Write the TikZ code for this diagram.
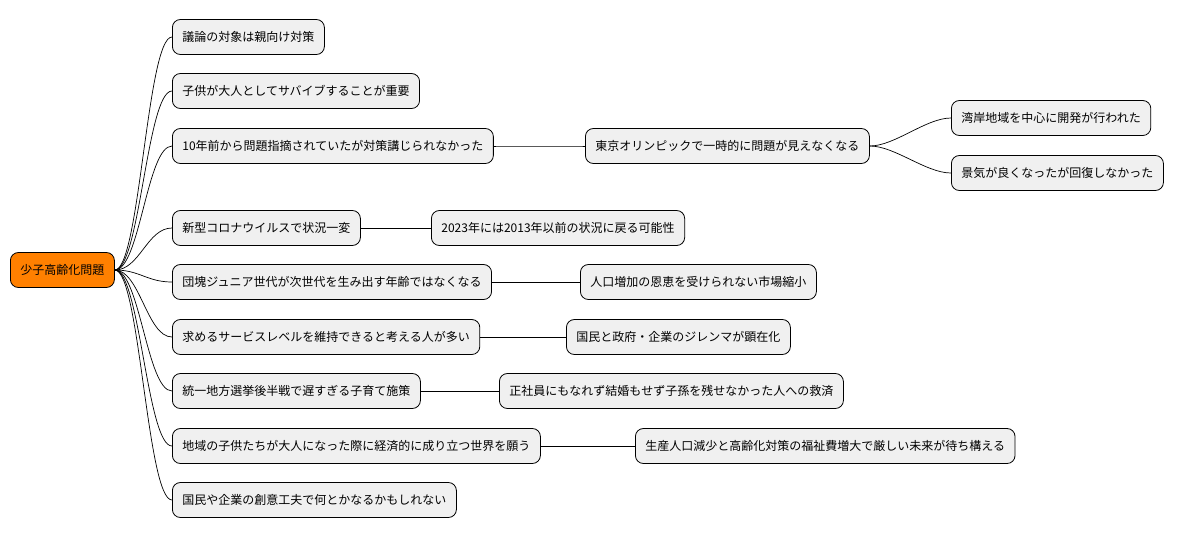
\documentclass[tikz,border=0pt]{standalone}
\usepackage{fontspec}
\setmainfont{Noto Sans CJK JP}
\begin{document}
\begin{tikzpicture}[%
      x=1pt, y=-1pt,
      topic/.style={draw=black, line width=0.8pt, rounded corners=8pt, fill=gray!12,
        minimum height=35pt, inner xsep=10pt, anchor=west, font=\fontsize{12}{14}\selectfont},
      rootnode/.style={topic, fill=orange},
      link/.style={draw=black, line width=0.7pt},
      ]
      \useasboundingbox (0,0) rectangle (1199,539);

      \node [rootnode] (root) at (10,270) {少子高齢化問題};

      \node [topic] (a) at (172,37) {議論の対象は親向け対策};
      \node [topic] (b) at (172,91) {子供が大人としてサバイブすることが重要};
      \node [topic] (c) at (172,146) {10年前から問題指摘されていたが対策講じられなかった};
      \node [topic] (d) at (172,228) {新型コロナウイルスで状況一変};
      \node [topic] (e) at (172,282) {団塊ジュニア世代が次世代を生み出す年齢ではなくなる};
      \node [topic] (f) at (172,337) {求めるサービスレベルを維持できると考える人が多い};
      \node [topic] (g) at (172,391) {統一地方選挙後半戦で遅すぎる子育て施策};
      \node [topic] (h) at (172,446) {地域の子供たちが大人になった際に経済的に成り立つ世界を願う};
      \node [topic] (i) at (172,500) {国民や企業の創意工夫で何とかなるかもしれない};

      \node [topic] (c1) at (585,146) {東京オリンピックで一時的に問題が見えなくなる};
      \node [topic] (c11) at (951,118) {湾岸地域を中心に開発が行われた};
      \node [topic] (c12) at (951,173) {景気が良くなったが回復しなかった};
      \node [topic] (d1) at (431,228) {2023年には2013年以前の状況に戻る可能性};
      \node [topic] (e1) at (580,282) {人口増加の恩恵を受けられない市場縮小};
      \node [topic] (f1) at (566,337) {国民と政府・企業のジレンマが顕在化};
      \node [topic] (g1) at (499,391) {正社員にもなれず結婚もせず子孫を残せなかった人への救済};
      \node [topic] (h1) at (635,446) {生産人口減少と高齢化対策の福祉費増大で厳しい未来が待ち構える};

      \foreach \n in {a,b,c,d,e,f,g,h,i}
        \draw [link] (root.east) .. controls +(25,0) and +(-25,0) .. (\n.west);
      \draw [link] (c.east) .. controls +(20,0) and +(-20,0) .. (c1.west);
      \draw [link] (c1.east) .. controls +(25,0) and +(-25,0) .. (c11.west);
      \draw [link] (c1.east) .. controls +(25,0) and +(-25,0) .. (c12.west);
      \draw [link] (d.east) -- (d1.west);
      \draw [link] (e.east) -- (e1.west);
      \draw [link] (f.east) -- (f1.west);
      \draw [link] (g.east) -- (g1.west);
      \draw [link] (h.east) -- (h1.west);
\end{tikzpicture}
\end{document}
